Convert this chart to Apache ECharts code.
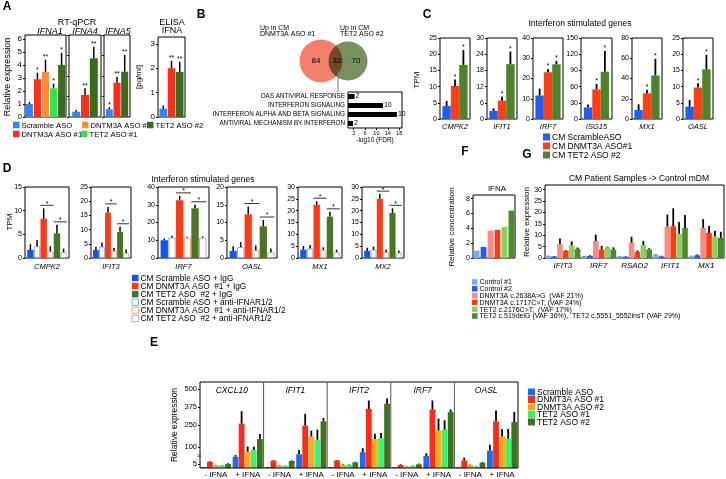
<!DOCTYPE html>
<html>
<head>
<meta charset="utf-8">
<script src="https://cdn.jsdelivr.net/npm/echarts@6/dist/echarts.min.js"></script>
<style>
  html, body { margin: 0; padding: 0; background: #fff; }
  #chart { width: 726px; height: 479px; }
</style>
</head>
<body>
<div id="chart"></div>
<script>
const FONT = "'Liberation Sans', Arial, Helvetica, sans-serif";

// ---- A: RT-qPCR / ELISA ----
const ifna1Vals = [1.0, 2.9, 3.47, 2.2, 4.0];
const ifna1Errs = [1.15, 3.4, 4.4, 2.57, 4.93];
const ifna1Stars = ["", "*", "**", "*", "*"];
const ifna4Vals = [0.52, 2.15, 5.73];
const ifna4Errs = [0.68, 2.8, 6.86];
const ifna4Stars = ["", "**", "**"];
const ifna5Vals = [0.75, 3.35, 4.42];
const ifna5Errs = [0.95, 3.93, 6.05];
const ifna5Stars = ["*", "**", "**"];
const elisaVals = [0.34, 2.0, 1.85];
const elisaErrs = [0.47, 2.3, 2.27];
const elisaStars = ["", "**", "**"];
const ifna1Ticks = [0, 1, 2, 3, 4, 5, 6];
const elisaTicks = [0, 1, 2, 3];

// ---- B: Venn + pathways ----
const vennCounts = [84, 32, 70];
const pathways = ["OAS ANTIVIRAL RESPONSE", "INTERFERON SIGNALING",
  "INTERFERON ALPHA AND BETA SIGNALING", "ANTIVIRAL MECHANISM BY INTERFERON"];
const pathwayFdr = [2.3, 12.3, 17.2, 1.75];
const pathwayCounts = [2, 10, 10, 2];
const fdrTicks = [2, 6, 10, 14, 18];

// ---- C: TPM ----
const cGenes = ["CMPK2", "IFIT1", "IRF7", "ISG15", "MX1", "OASL"];
const cMax = [25, 30, 40, 150, 80, 25];
const cStep = [5, 6, 10, 30, 20, 5];
const cScramble = [4.0, 2.96, 11.6, 21.6, 8.9, 3.8];
const cScrambleErr = [5.6, 4.0, 15.0, 27, 14.5, 5.9];
const cDnmt3a = [10.2, 6.8, 23.1, 54.9, 25.3, 9.7];
const cDnmt3aErr = [12.2, 8.3, 24.7, 64.8, 29, 11];
const cTet2 = [16.7, 20.3, 27, 87.6, 43, 15.3];
const cTet2Err = [21.3, 25, 28.7, 126, 59.5, 19.8];

// ---- D: TPM with IFNAR block ----
const dGenes = ["CMPK2", "IFIT3", "IRF7", "OASL", "MX1", "MX2"];
const dMax = [15, 25, 40, 20, 30, 30];
const dStep = [5, 5, 10, 5, 5, 5];
const dScrIgG = [1.7, 2.8, 10, 2, 3.5, 3];
const dScrIgGErr = [2.9, 4, 11, 3.3, 5, 4.3];
const dScrAnti = [2.5, 4, 11.5, 3.1, 4, 3.5];
const dScrAntiErr = [3.8, 5.5, 12.5, 4.5, 5.5, 4.8];
const dDnmIgG = [8.3, 16, 32.5, 12.3, 22.5, 25];
const dDnmIgGErr = [10.5, 18, 35, 14.5, 24, 27];
const dDnmAnti = [1.4, 2.5, 11.5, 2.2, 3.5, 2.5];
const dDnmAntiErr = [2.5, 3.5, 12, 3.5, 4.5, 3.5];
const dTetIgG = [5.2, 9.2, 28, 8.9, 17.5, 19];
const dTetIgGErr = [7, 11, 30, 10.7, 19.5, 21];
const dTetAnti = [1.2, 1.8, 11.5, 1.6, 2.5, 2.2];
const dTetAntiErr = [2, 3, 12.2, 2.7, 3.5, 3.2];

// ---- E: relative expression, broken axis ----
const eGenes = ["CXCL10", "IFIT1", "IFIT2", "IRF7", "OASL"];
const eConds = ["- IFNA", "+ IFNA"];
const eScramble = [1, 33, 1, 50, 1, 64, 1, 38, 1, 75];
const eScrambleErr = [1.3, 45, 1.3, 80, 1.3, 92, 1.3, 57, 1.3, 115];
const eDnmt1 = [7.9, 262, 9.2, 248, 9.5, 364, 3.8, 360, 9.5, 278];
const eDnmt1Err = [8.6, 348, 9.9, 330, 10, 422, 4.6, 422, 26, 353];
const eDnmt2 = [3, 68, 3, 173, 4, 155, 1.7, 213, 3.75, 173];
const eDnmt2Err = [3.6, 103, 3.6, 213, 4.6, 192, 2.2, 297, 4.3, 225];
const eTet1 = [3, 80, 2.5, 150, 4, 162, 2.5, 220, 1.7, 157];
const eTet1Err = [3.6, 103, 3, 220, 4.6, 197, 3, 285, 2.2, 225];
const eTet2 = [5, 155, 8.75, 278, 7, 400, 4.6, 343, 6.6, 273];
const eTet2Err = [5.8, 190, 9.5, 300, 7.8, 435, 5.5, 360, 7.5, 343];
const eLowTicks = [0, 5, 10];
const eHighTicks = [75, 100, 250, 375, 500];

// ---- F: IFNA concentration ----
const fSamples = ["Control #1", "Control #2", "DNMT3A c.2638A>G  (VAF 21%)",
  "DNMT3A c.1717C>T, (VAF 24%)", "TET2 c.2176C>T,  (VAF 17%)",
  "TET2 c.519delG (VAF 36%),  TET2 c.5551_5552insT (VAF 29%)"];
const fIfna = [1.0, 1.5, 3.7, 3.8, 4.2, 6.4];
const fTicks = [0, 2, 4, 6, 8];

// ---- G: patient samples ----
const gGenes = ["IFIT3", "IRF7", "RSAD2", "IFIT1", "MX1"];
const gCtrl1 = [0.8, 0.7, 0.7, 1.5, 0.8];
const gCtrl1Err = [1.0, 0.9, 0.9, 1.7, 1.0];
const gCtrl2 = [0.7, 0.9, 0.6, 0.7, 1.2];
const gCtrl2Err = [0.9, 1.2, 0.8, 1.0, 1.6];
const gDnmtA = [6.3, 7.4, 6.7, 13.8, 13.2];
const gDnmtAErr = [8.5, 10.2, 9.3, 19, 17];
const gDnmtB = [3.2, 3.8, 2.6, 13.9, 11];
const gDnmtBErr = [3.5, 5.3, 3.3, 21.8, 14];
const gTetA = [5.5, 4.7, 5.7, 10.6, 9.4];
const gTetAErr = [7.3, 5.0, 7.5, 15.8, 12];
const gTetB = [4.0, 3.7, 3.8, 13.2, 8.8];
const gTetBErr = [4.6, 4.7, 4.3, 18.8, 11.5];
const gTicks = [0, 5, 10, 15, 20, 25, 30];

// colours
const A_COL = { blue: "#2f86f6", red: "#ff2d1a", orange: "#ff8c3a", lgreen: "#30e64a", dgreen: "#3a6b1e" };
const C_COL = { blue: "#1d5ff2", red: "#ff3d16", green: "#4d8428" };
const D_COL = { blue: "#1457f0", red: "#ff3a14", green: "#4a7524", blueO: "#7fb0ff", redO: "#ff9f85", greenO: "#b0b8a4" };
const E_COL = { blue: "#1b6cf2", red: "#ff2a1a", orange: "#ffa81c", lgreen: "#3ff06a", dgreen: "#3f7322" };
const P_COL = { lb: "#7eaaf2", blue: "#1e5ff0", pink: "#f98b86", red: "#ff3a12", lg: "#8ad15c", dg: "#4c8a2c" };

const grids = [];
const xAxes = [];
const yAxes = [];
const series = [];
const graphics = [];

function range(n, step) {
  const out = [];
  for (let v = 0; v <= n + 1e-9; v += step) out.push(v);
  return out;
}

function addGrid(box, yCfg, xCfg, showBox) {
  const i = grids.length;
  grids.push({
    left: box[0], top: box[1], width: box[2] - box[0], height: box[3] - box[1],
    show: showBox !== false, borderColor: "#000", borderWidth: 1, backgroundColor: "transparent",
  });
  xAxes.push(Object.assign({
    gridIndex: i, type: "category", data: [""],
    axisLine: { show: false }, axisTick: { show: false }, axisLabel: { show: false },
  }, xCfg || {}));
  const ticks = yCfg.ticks;
  delete yCfg.ticks;
  yAxes.push(Object.assign({
    gridIndex: i, type: "value", min: 0,
    splitLine: { show: false }, axisLine: { show: false },
    axisTick: { show: true, length: 2, customValues: ticks, lineStyle: { color: "#000" } },
    axisLabel: { show: yCfg.labels !== false, customValues: ticks, fontSize: 7, color: "#000", margin: 3, fontFamily: FONT },
  }, yCfg));
  return i;
}

function addBars(gi, groups, bw, gap, lw, clip) {
  const S = groups.length;
  groups.forEach((g, k) => {
    series.push({
      type: "bar", xAxisIndex: gi, yAxisIndex: gi, data: g.vals,
      barWidth: bw, barGap: (gap * 100) + "%", silent: true,
      itemStyle: g.hollow ? { color: "#fff", borderColor: g.color, borderWidth: 1 } : { color: g.color },
    });
    if (!g.errs) return;
    const off = (k - (S - 1) / 2) * bw * (1 + gap);
    series.push({
      type: "custom", xAxisIndex: gi, yAxisIndex: gi, clip: !!clip, silent: true, z: 3,
      data: g.vals.map((v, i) => [i, v, g.errs[i]]),
      renderItem: (params, api) => {
        const i = api.value(0);
        const base = api.coord([i, api.value(1)]);
        const top = api.coord([i, api.value(2)]);
        const x = base[0] + off;
        const kids = [{
          type: "line", shape: { x1: x, y1: base[1], x2: x, y2: top[1] },
          style: { stroke: "#000", lineWidth: lw },
        }];
        const star = g.stars && g.stars[i];
        if (star) {
          kids.push({
            type: "text", x: x, y: top[1] + 1,
            style: { text: star, fill: "#000", font: `7px ${FONT}`, align: "center", verticalAlign: "bottom" },
          });
        }
        if (g.sig && g.sig[i]) {
          const yl = top[1] - 3;
          const x1 = x - bw / 2;
          const x2 = x + bw * (1 + gap) + bw / 2;
          kids.push({ type: "line", shape: { x1, y1: yl, x2, y2: yl }, style: { stroke: "#000", lineWidth: 0.8 } });
          kids.push({
            type: "text", x: (x1 + x2) / 2, y: yl + 2,
            style: { text: "*", fill: "#000", font: `7px ${FONT}`, align: "center", verticalAlign: "bottom" },
          });
        }
        return { type: "group", children: kids };
      },
    });
  });
}

function txt(x, y, text, size, o) {
  o = o || {};
  graphics.push({
    type: "text", x, y, rotation: o.rot ? Math.PI / 2 : 0, silent: true, z: 10,
    style: {
      text, fill: "#000",
      font: `${o.italic ? "italic " : ""}${o.bold ? "bold " : ""}${size}px ${FONT}`,
      align: o.align || "center", verticalAlign: o.va || "middle",
    },
  });
}

function legendItem(x, y, color, text, size, sq, hollow) {
  graphics.push({
    type: "rect", silent: true, z: 10,
    shape: { x: x, y: y - sq / 2, width: sq, height: sq },
    style: hollow ? { fill: "#fff", stroke: color, lineWidth: 1 } : { fill: color },
  });
  txt(x + sq + 2, y + 0.5, text, size, { align: "left" });
}

// ================= Panel A =================
txt(7, 7, "A", 12, { bold: true });
txt(77, 23, "RT-qPCR", 9);
txt(50, 31, "IFNA1", 9, { italic: true });
txt(85, 31, "IFNA4", 9, { italic: true });
txt(118, 31, "IFNA5", 9, { italic: true });
txt(8, 77, "Relative expression", 9, { rot: true });

let gi = addGrid([25, 35, 66, 117], { max: 6.3, ticks: ifna1Ticks, axisLabel: { customValues: ifna1Ticks, fontSize: 8, color: "#000", margin: 3 } });
addBars(gi, [
  { color: A_COL.blue, vals: [ifna1Vals[0]], errs: [ifna1Errs[0]], stars: [ifna1Stars[0]] },
  { color: A_COL.red, vals: [ifna1Vals[1]], errs: [ifna1Errs[1]], stars: [ifna1Stars[1]] },
  { color: A_COL.orange, vals: [ifna1Vals[2]], errs: [ifna1Errs[2]], stars: [ifna1Stars[2]] },
  { color: A_COL.lgreen, vals: [ifna1Vals[3]], errs: [ifna1Errs[3]], stars: [ifna1Stars[3]] },
  { color: A_COL.dgreen, vals: [ifna1Vals[4]], errs: [ifna1Errs[4]], stars: [ifna1Stars[4]] },
], 7, 0.15, 1.5);

gi = addGrid([69, 35, 101, 117], { max: 8, ticks: [0, 2, 4, 6, 8], labels: false });
addBars(gi, [A_COL.blue, A_COL.red, A_COL.dgreen].map((c, k) => (
  { color: c, vals: [ifna4Vals[k]], errs: [ifna4Errs[k]], stars: [ifna4Stars[k]] })), 8, 0.1, 1.5);

gi = addGrid([104, 35, 130, 117], { max: 8, ticks: [0, 2, 4, 6, 8], labels: false });
addBars(gi, [A_COL.blue, A_COL.red, A_COL.dgreen].map((c, k) => (
  { color: c, vals: [ifna5Vals[k]], errs: [ifna5Errs[k]], stars: [ifna5Stars[k]] })), 7, 0.1, 1.5);

txt(172, 23, "ELISA", 9);
txt(172, 31, "IFNA", 9);
txt(139, 77, "[pg/ml]", 8, { rot: true });
gi = addGrid([158, 37, 185, 117], { max: 3.28, ticks: elisaTicks, axisLabel: { customValues: elisaTicks, fontSize: 8, color: "#000", margin: 3 } });
addBars(gi, [A_COL.blue, A_COL.red, A_COL.dgreen].map((c, k) => (
  { color: c, vals: [elisaVals[k]], errs: [elisaErrs[k]], stars: [elisaStars[k]] })), 7.5, 0.1, 1.5);

legendItem(13, 125, A_COL.blue, "Scramble ASO", 7.7, 6.5);
legendItem(82, 125, A_COL.orange, "DNTM3A ASO #2", 7.7, 6.5);
legendItem(147, 125, A_COL.dgreen, "TET2 ASO #2", 7.7, 6.5);
legendItem(13, 134, A_COL.red, "DNTM3A ASO #1", 7.7, 6.5);
legendItem(81, 134, A_COL.lgreen, "TET2 ASO #1", 7.7, 6.5);

// ================= Panel B =================
txt(201, 15, "B", 12, { bold: true });
txt(260, 28, "Up in CM", 7, { align: "left" });
txt(260, 34, "DNMT3A ASO #1", 7, { align: "left" });
txt(340, 28, "Up in CM", 7, { align: "left" });
txt(340, 34, "TET2 ASO #2", 7, { align: "left" });
graphics.push({ type: "circle", silent: true, z: 5, shape: { cx: 321, cy: 61, r: 21.5 }, style: { fill: "#f3806b" } });
graphics.push({ type: "circle", silent: true, z: 6, shape: { cx: 348, cy: 61, r: 19.5 }, style: { fill: "#7a9060", blend: "multiply" } });
graphics.push({ type: "line", silent: true, z: 6, shape: { x1: 338, y1: 70, x2: 338, y2: 92 }, style: { stroke: "#777", lineWidth: 1 } });
txt(316, 61, String(vennCounts[0]), 8);
txt(337, 61, String(vennCounts[1]), 8);
txt(356, 61, String(vennCounts[2]), 8);

gi = grids.length;
grids.push({ left: 348, top: 92, width: 54, height: 36, show: true, borderColor: "#000", borderWidth: 1 });
xAxes.push({
  gridIndex: gi, type: "value", min: 0, max: 19, splitLine: { show: false },
  axisLine: { show: false },
  axisTick: { show: true, length: 2, customValues: fdrTicks, lineStyle: { color: "#000" } },
  axisLabel: { customValues: fdrTicks, fontSize: 5.5, color: "#000", margin: 2 },
  name: "-log10 (FDR)", nameLocation: "middle", nameGap: 8,
  nameTextStyle: { fontSize: 6.5, color: "#000" },
});
yAxes.push({
  gridIndex: gi, type: "category", inverse: true, data: pathways,
  axisLine: { show: false }, axisTick: { show: false },
  axisLabel: { fontSize: 6.3, color: "#000", margin: 3 },
});
series.push({
  type: "bar", xAxisIndex: gi, yAxisIndex: gi, data: pathwayFdr, barWidth: 5, silent: true,
  itemStyle: { color: "#000" },
  label: { show: true, position: "right", distance: 1, fontSize: 7, color: "#000",
    formatter: (p) => String(pathwayCounts[p.dataIndex]) },
});

// ================= Panel C =================
txt(427, 15, "C", 12, { bold: true });
txt(580, 24, "Interferon stimulated genes", 8.5);
txt(417, 80, "TPM", 8, { rot: true });
const cBoxes = [[440, 470], [487, 517], [533, 563], [581, 612], [632, 662], [683, 713]];
cGenes.forEach((gene, k) => {
  const ticks = range(cMax[k], cStep[k]);
  const g = addGrid([cBoxes[k][0], 38, cBoxes[k][1], 119], { max: cMax[k], ticks },
    { data: [gene], axisLabel: { show: true, fontSize: 7.5, fontStyle: "italic", color: "#000", margin: 4 } });
  addBars(g, [
    { color: C_COL.blue, vals: [cScramble[k]], errs: [cScrambleErr[k]] },
    { color: C_COL.red, vals: [cDnmt3a[k]], errs: [cDnmt3aErr[k]], stars: ["*"] },
    { color: C_COL.green, vals: [cTet2[k]], errs: [cTet2Err[k]], stars: ["*"] },
  ], 8.4, 0, 1.8);
});
legendItem(543, 137, C_COL.blue, "CM ScrambleASO", 8.5, 7);
legendItem(543, 146, C_COL.red, "CM DNMT3A ASO#1", 8.5, 7);
legendItem(543, 155, C_COL.green, "CM TET2 ASO #2", 8.5, 7);

// ================= Panel D =================
txt(7, 169, "D", 12, { bold: true });
txt(203, 180, "Interferon stimulated genes", 8.5);
txt(10, 222, "TPM", 8, { rot: true });
const dBoxes = [[25, 69], [91, 131], [158, 209], [227, 277], [298, 342], [362, 404]];
dGenes.forEach((gene, k) => {
  const ticks = range(dMax[k], dStep[k]);
  const w = dBoxes[k][1] - dBoxes[k][0];
  const g = addGrid([dBoxes[k][0], 187, dBoxes[k][1], 258], { max: dMax[k], ticks },
    { data: [gene], axisLabel: { show: true, fontSize: 7.5, fontStyle: "italic", color: "#000", margin: 5 } });
  addBars(g, [
    { color: D_COL.blue, vals: [dScrIgG[k]], errs: [dScrIgGErr[k]] },
    { color: D_COL.blueO, hollow: true, vals: [dScrAnti[k]], errs: [dScrAntiErr[k]] },
    { color: D_COL.red, vals: [dDnmIgG[k]], errs: [dDnmIgGErr[k]], sig: [true] },
    { color: D_COL.redO, hollow: true, vals: [dDnmAnti[k]], errs: [dDnmAntiErr[k]] },
    { color: D_COL.green, vals: [dTetIgG[k]], errs: [dTetIgGErr[k]], sig: [true] },
    { color: D_COL.greenO, hollow: true, vals: [dTetAnti[k]], errs: [dTetAntiErr[k]] },
  ], w * 0.145, 0.04, 1.5);
});
const dLegend = [
  [D_COL.blue, "CM Scramble ASO + IgG", false],
  [D_COL.red, "CM DNMT3A ASO  #1 + IgG", false],
  [D_COL.green, "CM TET2 ASO  #2 + IgG", false],
  [D_COL.blueO, "CM Scramble ASO + anti-IFNAR1/2", true],
  [D_COL.redO, "CM DNMT3A ASO  #1 + anti-IFNAR1/2", true],
  [D_COL.greenO, "CM TET2 ASO  #2 + anti-IFNAR1/2", true],
];
dLegend.forEach((it, i) => legendItem(132, 278 + i * 8.1, it[0], it[1], 8.3, 6.5, it[2]));

// ================= Panel E =================
txt(154, 343, "E", 12, { bold: true });
txt(175, 425, "Relative expression", 8.5, { rot: true });
const eLeft = 200, eRight = 518, eTop = 382, eBreak = 460, eBottom = 468;
const eCats = [];
eGenes.forEach(() => eConds.forEach((c) => eCats.push(c)));
const giHigh = addGrid([eLeft, eTop, eRight, eBreak], { min: 10, max: 550, ticks: eHighTicks,
  axisLabel: { customValues: eHighTicks, fontSize: 7.5, color: "#000", margin: 3 } },
  { data: eCats }, false);
const giLow = addGrid([eLeft, eBreak, eRight, eBottom], { max: 10, ticks: eLowTicks,
  axisLabel: { customValues: eLowTicks, fontSize: 7.5, color: "#000", margin: 3 } },
  { data: eCats, axisLabel: { show: true, fontSize: 8, color: "#000", margin: 3, interval: 0 } }, false);
const eSeries = [
  { color: E_COL.blue, vals: eScramble, errs: eScrambleErr },
  { color: E_COL.red, vals: eDnmt1, errs: eDnmt1Err },
  { color: E_COL.orange, vals: eDnmt2, errs: eDnmt2Err },
  { color: E_COL.lgreen, vals: eTet1, errs: eTet1Err },
  { color: E_COL.dgreen, vals: eTet2, errs: eTet2Err },
];
addBars(giHigh, eSeries, 5.8, 0.05, 1.8, true);
addBars(giLow, eSeries, 5.8, 0.05, 1.8, true);
graphics.push({ type: "rect", silent: true, z: 8, shape: { x: eLeft, y: eTop, width: eRight - eLeft, height: eBottom - eTop },
  style: { fill: "none", stroke: "#000", lineWidth: 1 } });
const ePanelW = (eRight - eLeft) / eGenes.length;
eGenes.forEach((gene, k) => {
  if (k > 0) {
    const x = eLeft + ePanelW * k;
    graphics.push({ type: "line", silent: true, z: 8, shape: { x1: x, y1: eTop, x2: x, y2: eBottom },
      style: { stroke: "#555", lineWidth: 1 } });
  }
  txt(eLeft + ePanelW * (k + 0.5), 391, gene, 8.5, { italic: true });
});
txt(199, 456.5, "≈", 7);
const eLegend = [
  [E_COL.blue, "Scramble ASO"], [E_COL.red, "DNMT3A ASO #1"], [E_COL.orange, "DNMT3A ASO #2"],
  [E_COL.lgreen, "TET2 ASO #1"], [E_COL.dgreen, "TET2 ASO #2"],
];
eLegend.forEach((it, i) => legendItem(528, 392 + i * 7.5, it[0], it[1], 8.5, 7));

// ================= Panel F =================
txt(465, 152, "F", 12, { bold: true });
txt(497, 189, "IFNA", 8);
txt(452, 227, "Relative concentration", 8, { rot: true });
gi = addGrid([473, 195, 515, 258], { max: 8.5, ticks: fTicks });
const fColors = [P_COL.lb, P_COL.blue, P_COL.pink, P_COL.red, P_COL.lg, P_COL.dg];
addBars(gi, fColors.map((c, k) => ({ color: c, vals: [fIfna[k]] })), 5.8, 0.2, 1.5);
fSamples.forEach((s, i) => legendItem(472, 282 + i * 6.8, fColors[i], s, 7, 5.5));

// ================= Panel G =================
txt(527, 155, "G", 12, { bold: true });
txt(639, 179, "CM Patient Samples -> Control mDM", 8.5);
txt(527, 222, "Relative expression", 8, { rot: true });
gi = addGrid([545, 185, 724, 258], { max: 32, ticks: gTicks },
  { data: gGenes, axisLabel: { show: true, fontSize: 8, fontStyle: "italic", color: "#000", margin: 4, interval: 0 } });
addBars(gi, [
  { color: P_COL.lb, vals: gCtrl1, errs: gCtrl1Err },
  { color: P_COL.blue, vals: gCtrl2, errs: gCtrl2Err },
  { color: P_COL.pink, vals: gDnmtA, errs: gDnmtAErr },
  { color: P_COL.red, vals: gDnmtB, errs: gDnmtBErr },
  { color: P_COL.lg, vals: gTetA, errs: gTetAErr },
  { color: P_COL.dg, vals: gTetB, errs: gTetBErr },
], 5.6, 0.05, 1.8);

const chart = echarts.init(document.getElementById("chart"));
chart.setOption({
  animation: false,
  backgroundColor: "#fff",
  textStyle: { fontFamily: FONT },
  grid: grids,
  xAxis: xAxes,
  yAxis: yAxes,
  series: series,
  graphic: { elements: graphics },
});
</script>
</body>
</html>
